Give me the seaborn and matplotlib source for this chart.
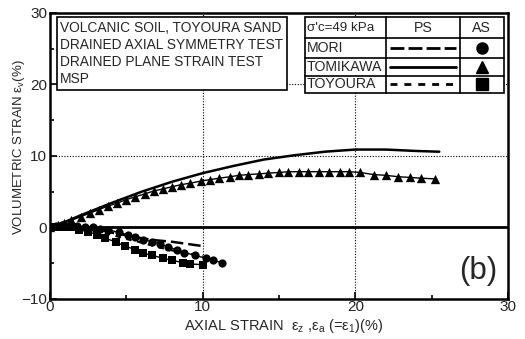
import matplotlib
matplotlib.use("Agg")
import matplotlib.pyplot as plt
import seaborn as sns
import pandas as pd
from matplotlib.patches import Rectangle
from matplotlib.lines import Line2D

# ---------------- data ----------------
tomi_ps_x = [0, 1, 2, 4, 5, 6, 8, 10, 12, 14, 16, 18, 20, 22, 24, 25.5]
tomi_ps_y = [0, 0.8, 1.7, 3.4, 4.2, 5.0, 6.4, 7.6, 8.6, 9.5, 10.1, 10.6, 10.9, 10.9, 10.7, 10.6]

tomi_as_x = [0.0, 0.5, 0.9, 1.4, 2.0, 2.6, 3.2, 3.8, 4.4, 5.0, 5.6, 6.2, 6.8, 7.4,
             8.0, 8.6, 9.2, 9.9, 10.5, 11.1, 11.8, 12.4, 13.0, 13.7, 14.3, 15.0,
             15.6, 16.3, 16.9, 17.6, 18.3, 19.0, 19.6, 20.3, 21.2, 22.0, 22.8,
             23.6, 24.3, 25.2]
tomi_as_y = [0.0, 0.3, 0.6, 1.0, 1.5, 2.0, 2.5, 3.0, 3.4, 3.9, 4.3, 4.7, 5.1, 5.4,
             5.7, 6.0, 6.2, 6.5, 6.7, 6.9, 7.1, 7.3, 7.4, 7.5, 7.6, 7.7,
             7.8, 7.8, 7.8, 7.8, 7.8, 7.8, 7.8, 7.7, 7.4, 7.3, 7.1,
             7.0, 6.9, 6.8]

mori_ps_x = [0, 0.5, 1, 2, 3, 4, 5, 6, 7, 8, 9, 10]
mori_ps_y = [0, 0.2, 0.3, 0.2, -0.2, -0.7, -1.1, -1.5, -1.8, -2.0, -2.3, -2.6]

mori_as_x = [0, 0.4, 0.8, 1.3, 1.8, 2.3, 2.8, 3.3, 3.8, 4.5, 5.1, 5.6, 6.1, 6.7,
             7.2, 7.7, 8.3, 8.8, 9.5, 10.2, 10.7, 11.3]
mori_as_y = [0, 0.2, 0.3, 0.3, 0.2, 0.1, 0.0, -0.2, -0.3, -0.7, -1.0, -1.3, -1.7, -2.0,
             -2.3, -2.7, -3.1, -3.5, -3.9, -4.3, -4.6, -4.95]

toy_ps_x = [0, 1, 2, 3, 4, 5, 6, 7, 8, 9, 10]
toy_ps_y = [0, 0.2, 0.0, -0.5, -1.0, -1.6, -2.1, -2.7, -3.2, -3.6, -4.0]

toy_as_x = [0, 0.4, 0.9, 1.4, 1.9, 2.5, 3.1, 3.6, 4.3, 4.9, 5.6, 6.1, 6.7, 7.4,
            8.0, 8.7, 9.2, 10.0]
toy_as_y = [0, 0.1, 0.1, 0.0, -0.3, -0.6, -1.0, -1.5, -2.0, -2.6, -3.1, -3.6, -3.9, -4.3,
            -4.6, -4.9, -5.1, -5.2]

x_ticks = [0, 10, 20, 30]
y_ticks = [-10, 0, 10, 20, 30]

info_lines = ["VOLCANIC SOIL, TOYOURA SAND", "DRAINED AXIAL SYMMETRY TEST",
              "DRAINED PLANE STRAIN TEST", "MSP"]
table_names = ["MORI", "TOMIKAWA", "TOYOURA"]
table_ls = [(0, (5, 1.5)), "-", (0, (2.5, 2.5))]
table_markers = ["o", "^", "s"]

# ---------------- styling ----------------
sns.set_theme(style="ticks")
plt.rcParams['font.family'] = ['Liberation Sans', 'DejaVu Sans']
plt.rcParams['mathtext.fontset'] = 'custom'
plt.rcParams['mathtext.rm'] = 'Liberation Sans'
plt.rcParams['mathtext.it'] = 'Liberation Sans:italic'
plt.rcParams['mathtext.cal'] = 'Liberation Sans'

fig = plt.figure(figsize=(5.25, 3.39), dpi=100)
ax = fig.add_axes([0.0952, 0.118, 0.8724, 0.8437])

# grid & zero line
for v in [10, 20]:
    ax.axvline(v, color="black", lw=0.8, ls=(0, (1, 1.5)), zorder=1)
    ax.axhline(v, color="black", lw=0.8, ls=(0, (1, 1.5)), zorder=1)
ax.axhline(0, color="black", lw=2.0, zorder=1)

# PS curves
sns.lineplot(x=tomi_ps_x, y=tomi_ps_y, ax=ax, color="black", lw=1.8,
             sort=False, estimator=None, linestyle="-")
sns.lineplot(x=mori_ps_x, y=mori_ps_y, ax=ax, color="black", lw=1.8,
             sort=False, estimator=None, linestyle=(0, (5, 2)))
sns.lineplot(x=toy_ps_x, y=toy_ps_y, ax=ax, color="black", lw=1.6,
             sort=False, estimator=None, linestyle=(0, (2.5, 2.5)))

# AS curves (markers with thin connecting lines)
for xs, ys, m, s in [(tomi_as_x, tomi_as_y, "^", 45),
                     (mori_as_x, mori_as_y, "o", 35),
                     (toy_as_x, toy_as_y, "s", 28)]:
    sns.lineplot(x=xs, y=ys, ax=ax, color="black", lw=1.0,
                 sort=False, estimator=None)
    sns.scatterplot(x=xs, y=ys, ax=ax, color="black", marker=m, s=s,
                    edgecolor="black", linewidth=0, zorder=3)

ax.set_xlim(0, 30)
ax.set_ylim(-10, 30)
ax.set_xticks(x_ticks)
ax.set_yticks(y_ticks)
ax.set_xticks([5, 15, 25], minor=True)
ax.set_yticks([-5, 5, 15, 25], minor=True)
ax.tick_params(which="both", direction="in", color="black", width=1.2)
ax.tick_params(which="major", length=5, labelsize=11, pad=2)
ax.tick_params(axis="x", which="major", pad=1)
ax.tick_params(which="minor", length=3)
for sp in ax.spines.values():
    sp.set_visible(True)
    sp.set_linewidth(1.8)
    sp.set_color("black")

ax.set_xlabel("AXIAL STRAIN  ε$_{\\rm z}$ ,ε$_{\\rm a}$ (=ε$_{\\rm 1}$)(%)", fontsize=10.5)
ax.xaxis.set_label_coords(0.51, -0.093)
ax.xaxis.label.set_va("center")
ax.set_ylabel("VOLUMETRIC STRAIN ε$_{\\rm v}$(%)", fontsize=9.5)
ax.yaxis.set_label_coords(-0.05, 0.53)

# info box
ax.add_patch(Rectangle((0.0153, 0.731), 0.5022, 0.255, transform=ax.transAxes,
                       fill=True, facecolor="white", edgecolor="black", lw=1.2, zorder=5))
info_y = [0.946, 0.889, 0.829, 0.769]
for t, yy in zip(info_lines, info_y):
    ax.text(0.022, yy, t, transform=ax.transAxes, fontsize=9.9,
            va="center", ha="left", zorder=6)

# legend table
xs_col = [0.557, 0.734, 0.895, 0.991]
ys_row = [0.985, 0.912, 0.844, 0.780, 0.720]
ax.add_patch(Rectangle((xs_col[0], ys_row[-1]), xs_col[-1] - xs_col[0],
                       ys_row[0] - ys_row[-1], transform=ax.transAxes,
                       facecolor="white", edgecolor="black", lw=1.2, zorder=5))
for xc in xs_col[1:-1]:
    ax.add_line(Line2D([xc, xc], [ys_row[-1], ys_row[0]], transform=ax.transAxes,
                       color="black", lw=1.2, zorder=6))
for yr in ys_row[1:-1]:
    ax.add_line(Line2D([xs_col[0], xs_col[-1]], [yr, yr], transform=ax.transAxes,
                       color="black", lw=1.2, zorder=6))
hy = (ys_row[0] + ys_row[1]) / 2
ax.text(xs_col[0] + 0.004, hy, "σ'c=49 kPa", transform=ax.transAxes, fontsize=9.6,
        va="center", ha="left", zorder=7)
ax.text((xs_col[1] + xs_col[2]) / 2, hy, "PS", transform=ax.transAxes, fontsize=10.2,
        va="center", ha="center", zorder=7)
ax.text((xs_col[2] + xs_col[3]) / 2, hy, "AS", transform=ax.transAxes, fontsize=10.2,
        va="center", ha="center", zorder=7)
for i, (nm, ls, mk) in enumerate(zip(table_names, table_ls, table_markers)):
    cy = (ys_row[i + 1] + ys_row[i + 2]) / 2
    ax.text(xs_col[0] + 0.004, cy, nm, transform=ax.transAxes, fontsize=10.2,
            va="center", ha="left", zorder=7)
    ax.add_line(Line2D([xs_col[1] + 0.008, xs_col[2] - 0.008], [cy, cy],
                       transform=ax.transAxes, color="black", lw=2.0, ls=ls, zorder=7))
    ax.add_line(Line2D([(xs_col[2] + xs_col[3]) / 2], [cy], transform=ax.transAxes,
                       color="black", marker=mk, markersize=8, ls="none", zorder=7))

ax.text(0.976, 0.045, "(b)", transform=ax.transAxes, fontsize=22.5,
        ha="right", va="bottom", zorder=7)

fig.savefig("out.png", dpi=100)
